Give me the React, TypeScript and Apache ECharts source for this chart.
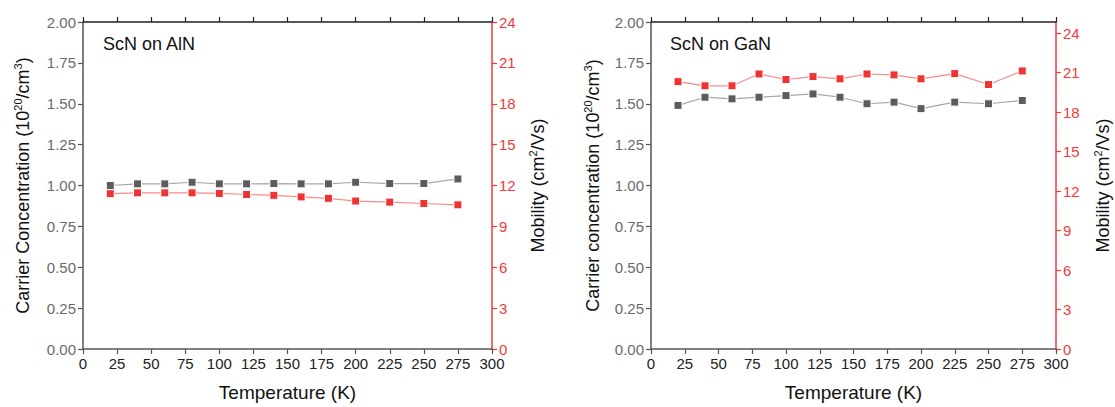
import React, { useEffect, useRef } from "react";
import * as echarts from "echarts";

const temperatures = [20, 40, 60, 80, 100, 120, 140, 160, 180, 200, 225, 250, 275];
const alnCarrier = [1.0, 1.01, 1.01, 1.02, 1.01, 1.01, 1.012, 1.01, 1.01, 1.02, 1.012, 1.012, 1.04];
const alnMobility = [11.4, 11.46, 11.46, 11.46, 11.42, 11.34, 11.28, 11.16, 11.06, 10.86, 10.78, 10.68, 10.58];
const ganCarrier = [1.49, 1.54, 1.53, 1.54, 1.55, 1.56, 1.54, 1.5, 1.51, 1.47, 1.51, 1.5, 1.52];
const ganMobility = [20.32, 20.0, 20.0, 20.9, 20.48, 20.7, 20.53, 20.9, 20.83, 20.53, 20.93, 20.1, 21.13];
const panelLabels = ["ScN on AlN", "ScN on GaN"];
const leftAxisNames = [
  "Carrier Concentration (10{sup|20}/cm{sup|3})",
  "Carrier concentration (10{sup|20}/cm{sup|3})",
];
const rightAxisName = "Mobility (cm{sup|2}/Vs)";
const xAxisName = "Temperature (K)";
const mobilityTicks = [0, 3, 6, 9, 12, 15, 18, 21, 24];

const FONT = "'Liberation Sans', Arial, sans-serif";
const RED = "#f23a3a";
const GREY_AXIS = "#555";

const nameRich = (color: string) => ({
  fontSize: 18,
  color,
  fontFamily: FONT,
  lineHeight: 22,
  rich: {
    sup: { fontSize: 11, verticalAlign: "top", lineHeight: 22, color, fontFamily: FONT },
  },
});

export default function App() {
  const ref = useRef<HTMLDivElement>(null);
  useEffect(() => {
    if (!ref.current) return;
    const chart = echarts.init(ref.current, undefined, { renderer: "svg" });
    const grids = [
      { left: 83, top: 22, width: 409, height: 330 },
      { left: 651, top: 22, width: 408, height: 330 },
    ];
    const xAxes: any[] = [];
    const yAxes: any[] = [];
    const series: any[] = [];
    const datasets = [
      { carrier: alnCarrier, mobility: alnMobility, rmax: 24, lgap: 49, rgap: 35 },
      { carrier: ganCarrier, mobility: ganMobility, rmax: 24.85, lgap: 47, rgap: 36 },
    ];
    datasets.forEach((d, i) => {
      xAxes.push({
        type: "value",
        gridIndex: i,
        position: "bottom",
        min: 0,
        max: 300,
        interval: 25,
        name: xAxisName,
        nameLocation: "middle",
        nameGap: 34,
        nameTextStyle: { fontSize: 19, color: "#111", fontFamily: FONT },
        axisLine: { onZero: false, lineStyle: { color: GREY_AXIS, width: 1.5 } },
        axisTick: { inside: false, length: 5, lineStyle: { color: GREY_AXIS, width: 1.2 } },
        axisLabel: { fontSize: 15, color: "#222", fontFamily: FONT, margin: 7 },
        splitLine: { show: false },
      });
      xAxes.push({
        type: "value",
        gridIndex: i,
        position: "top",
        min: 0,
        max: 300,
        interval: 25,
        axisLine: { onZero: false, lineStyle: { color: "#222", width: 1.5 } },
        axisTick: { inside: false, length: 5, lineStyle: { color: "#222", width: 1.2 } },
        axisLabel: { show: false },
        splitLine: { show: false },
      });
      yAxes.push({
        type: "value",
        gridIndex: i,
        position: "left",
        min: 0,
        max: 2,
        interval: 0.25,
        name: leftAxisNames[i],
        nameLocation: "middle",
        nameGap: d.lgap,
        nameTextStyle: nameRich("#111"),
        axisLine: { show: true, onZero: false, lineStyle: { color: GREY_AXIS, width: 1.5 } },
        axisTick: { show: true, length: 5, lineStyle: { color: GREY_AXIS, width: 1.2 } },
        axisLabel: {
          fontSize: 15,
          color: "#6a6a6a",
          fontFamily: FONT,
          margin: 7,
          formatter: (v: number) => v.toFixed(2),
        },
        splitLine: { show: false },
      });
      yAxes.push({
        type: "value",
        gridIndex: i,
        position: "right",
        min: 0,
        max: d.rmax,
        interval: 3,
        name: rightAxisName,
        nameLocation: "middle",
        nameGap: d.rgap,
        nameTextStyle: nameRich("#111"),
        axisLine: { show: true, onZero: false, lineStyle: { color: RED, width: 1.5 } },
        axisTick: {
          show: true,
          length: 5,
          lineStyle: { color: RED, width: 1.2 },
          customValues: mobilityTicks,
        },
        axisLabel: {
          fontSize: 15,
          color: RED,
          fontFamily: FONT,
          margin: 7,
          customValues: mobilityTicks,
        },
        splitLine: { show: false },
      });
      series.push({
        type: "line",
        xAxisIndex: i * 2,
        yAxisIndex: i * 2,
        data: temperatures.map((t, k) => [t, d.carrier[k]]),
        symbol: "rect",
        symbolSize: 8,
        itemStyle: { color: "#5c5c5c", borderColor: "#fff", borderWidth: 1 },
        lineStyle: { color: "#a8a8a8", width: 1.2 },
        z: 3,
      });
      series.push({
        type: "line",
        xAxisIndex: i * 2,
        yAxisIndex: i * 2 + 1,
        data: temperatures.map((t, k) => [t, d.mobility[k]]),
        symbol: "rect",
        symbolSize: 8,
        itemStyle: { color: "#ee3333", borderColor: "#fff", borderWidth: 1 },
        lineStyle: { color: "#f98a8a", width: 1.2 },
        z: 3,
      });
    });
    chart.setOption({
      animation: false,
      backgroundColor: "#fff",
      grid: grids,
      xAxis: xAxes,
      yAxis: yAxes,
      series,
      graphic: [
        {
          type: "text",
          left: 103,
          top: 35,
          style: { text: panelLabels[0], fontSize: 18, fill: "#111", fontFamily: FONT },
        },
        {
          type: "text",
          left: 670,
          top: 35,
          style: { text: panelLabels[1], fontSize: 18, fill: "#111", fontFamily: FONT },
        },
      ],
    });
    return () => chart.dispose();
  }, []);
  return (
    <div
      ref={ref}
      style={{ position: "fixed", left: 0, top: 0, width: 1115, height: 407, background: "#fff" }}
    />
  );
}
